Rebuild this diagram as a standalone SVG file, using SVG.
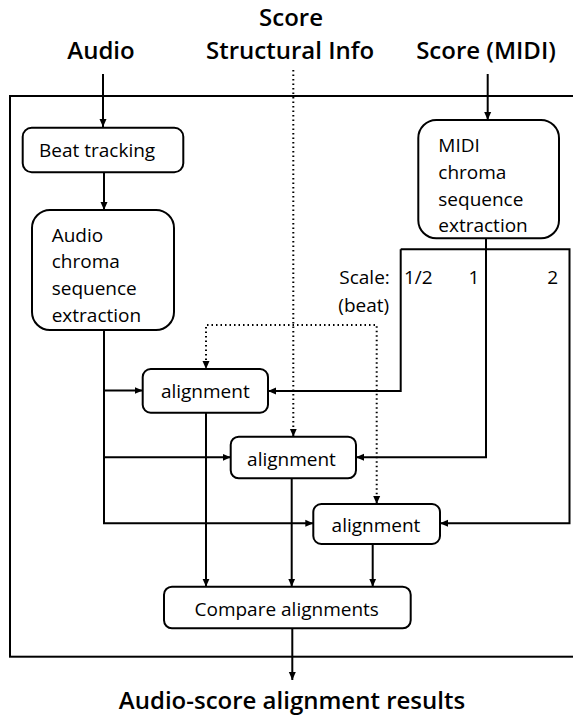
<svg xmlns="http://www.w3.org/2000/svg" width="573" height="719" viewBox="0 0 573 719">
<defs>
<style>
.hd{font-family:"Open Sans","Liberation Sans",sans-serif;font-size:24px;font-weight:600;fill:#000}
.tx{font-family:"Open Sans","Liberation Sans",sans-serif;font-size:19px;fill:#000}
.box{fill:#fff;stroke:#000;stroke-width:2}
.ln{fill:none;stroke:#000;stroke-width:2}
.dot{fill:none;stroke:#000;stroke-width:2;stroke-dasharray:1.5 3}
.mid{text-anchor:middle}
</style>
<marker id="ah" viewBox="0 0 8 8" refX="8" refY="4" markerWidth="8" markerHeight="8" orient="auto-start-reverse" markerUnits="userSpaceOnUse">
<path d="M0,0.5 L8,4 L0,7.5 z" fill="#000"/>
</marker>
</defs>
<rect width="573" height="719" fill="#fff"/>

<g id="frame"><rect x="10" y="96" width="570" height="560.7" fill="none" stroke="#000" stroke-width="2"/></g>

<g id="in-audio"><text class="hd mid" x="101" y="58.5">Audio</text></g>
<g id="in-struct"><text class="hd mid" x="291" y="26">Score</text><text class="hd mid" x="290" y="58.5">Structural Info</text></g>
<g id="in-midi"><text class="hd mid" x="486" y="58.5">Score (MIDI)</text></g>

<g id="connectors">
<path class="ln" d="M103,74 V127" marker-end="url(#ah)"/>
<path class="ln" d="M104,172.3 V210" marker-end="url(#ah)"/>
<path class="ln" d="M487.7,74 V120" marker-end="url(#ah)"/>
<path class="dot" d="M293.3,70 V436.7" marker-end="url(#ah)"/>
<path class="dot" d="M206,369 V325 H376.7 V504" marker-start="url(#ah)" marker-end="url(#ah)"/>
<path class="ln" d="M104,330 V523.3 H313.3" marker-end="url(#ah)"/>
<path class="ln" d="M104,390.5 H142.7" marker-end="url(#ah)"/>
<path class="ln" d="M104,457.3 H230.7" marker-end="url(#ah)"/>
<path class="ln" d="M486,238.3 V457.3 H356" marker-end="url(#ah)"/>
<path class="ln" d="M400.7,249.3 H569.5 V523.3 H440" marker-end="url(#ah)"/>
<path class="ln" d="M400.7,249.3 V391 H268" marker-end="url(#ah)"/>
<path class="ln" d="M206,412.7 V586.7" marker-end="url(#ah)"/>
<path class="ln" d="M291.7,478.3 V586.7" marker-end="url(#ah)"/>
<path class="ln" d="M372.7,544 V586.7" marker-end="url(#ah)"/>
<path class="ln" d="M292.3,628.3 V680" marker-end="url(#ah)"/>
</g>

<g id="beat"><rect class="box" x="22.7" y="127.7" width="160.6" height="44.6" rx="9"/><text class="tx" x="39" y="156.7">Beat tracking</text></g>
<g id="audio-chroma"><rect class="box" x="32" y="210" width="142" height="120" rx="18"/>
<text class="tx" x="51.7" y="241.7">Audio</text><text class="tx" x="51.7" y="268.2">chroma</text><text class="tx" x="51.7" y="294.7">sequence</text><text class="tx" x="51.7" y="321.7">extraction</text></g>
<g id="midi-chroma"><rect class="box" x="418.3" y="120" width="140.7" height="118.3" rx="18"/>
<text class="tx" x="438.3" y="152.3">MIDI</text><text class="tx" x="438.3" y="179">chroma</text><text class="tx" x="438.3" y="205.7">sequence</text><text class="tx" x="438.3" y="231.7">extraction</text></g>

<g id="scale"><text class="tx" x="339.3" y="284">Scale:</text><text class="tx" x="404" y="284">1/2</text><text class="tx" x="474" y="284" text-anchor="middle">1</text><text class="tx" x="552.8" y="284" text-anchor="middle">2</text><text class="tx" x="338.3" y="311.7">(beat)</text></g>

<g id="align1"><rect class="box" x="142.7" y="369" width="125.3" height="43.7" rx="8"/><text class="tx mid" x="205.3" y="397.5">alignment</text></g>
<g id="align2"><rect class="box" x="230.7" y="436.7" width="125.3" height="41.6" rx="8"/><text class="tx mid" x="291.5" y="465.7">alignment</text></g>
<g id="align3"><rect class="box" x="313.3" y="504" width="126.7" height="40" rx="8"/><text class="tx mid" x="376" y="531.5">alignment</text></g>
<g id="compare"><rect class="box" x="164" y="586.7" width="246.7" height="41.6" rx="8"/><text class="tx mid" x="286.7" y="616">Compare alignments</text></g>

<g id="out"><text class="hd mid" x="292" y="709">Audio-score alignment results</text></g>
</svg>
